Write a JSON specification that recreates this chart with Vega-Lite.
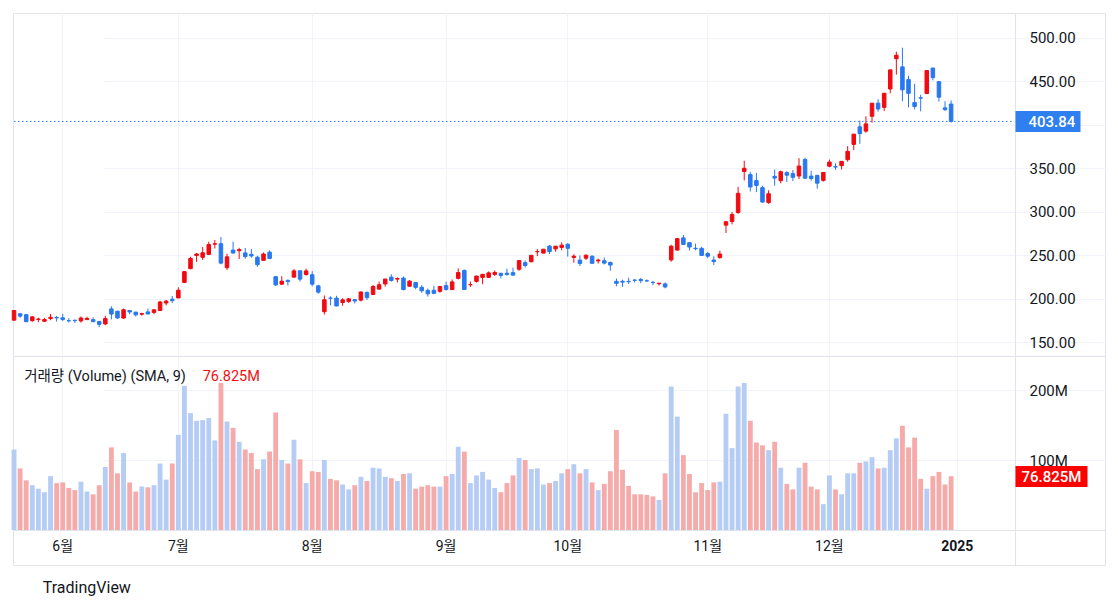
{
  "$schema": "https://vega.github.io/schema/vega-lite/v6.json",
  "padding": {"left": 10, "top": 12, "right": 0, "bottom": 0},
  "background": "#ffffff",
  "spacing": 0,
  "bounds": "flush",
  "title": {"text": "TradingView", "orient": "bottom", "anchor": "start", "offset": 14, "fontSize": 16, "fontWeight": "normal", "font": "Roboto", "color": "#131722", "dx": 32},
  "datasets": {
    "ohlc": [
      {"d":"2024-05-21","o":175.51,"h":186.88,"l":174.71,"c":186.60,"v":115},
      {"d":"2024-05-22","o":182.85,"h":183.80,"l":178.12,"c":180.11,"v":88},
      {"d":"2024-05-23","o":181.80,"h":181.90,"l":173.26,"c":173.74,"v":71},
      {"d":"2024-05-24","o":174.84,"h":180.08,"l":173.73,"c":179.24,"v":64},
      {"d":"2024-05-28","o":176.40,"h":178.25,"l":173.16,"c":176.75,"v":59},
      {"d":"2024-05-29","o":174.19,"h":178.15,"l":173.93,"c":176.19,"v":54},
      {"d":"2024-05-30","o":177.30,"h":182.67,"l":175.38,"c":178.79,"v":77},
      {"d":"2024-05-31","o":178.50,"h":180.32,"l":173.82,"c":178.08,"v":67},
      {"d":"2024-06-03","o":178.13,"h":182.64,"l":174.49,"c":176.29,"v":68},
      {"d":"2024-06-04","o":174.78,"h":177.76,"l":173.00,"c":174.77,"v":60},
      {"d":"2024-06-05","o":175.35,"h":176.15,"l":172.13,"c":175.00,"v":57},
      {"d":"2024-06-06","o":174.60,"h":179.73,"l":172.73,"c":177.94,"v":69},
      {"d":"2024-06-07","o":176.13,"h":179.35,"l":175.58,"c":177.48,"v":55},
      {"d":"2024-06-10","o":176.06,"h":178.57,"l":173.17,"c":173.79,"v":51},
      {"d":"2024-06-11","o":173.92,"h":174.75,"l":167.41,"c":170.66,"v":64},
      {"d":"2024-06-12","o":171.12,"h":180.55,"l":169.80,"c":177.29,"v":90},
      {"d":"2024-06-13","o":188.39,"h":191.36,"l":176.35,"c":182.47,"v":118},
      {"d":"2024-06-14","o":185.80,"h":186.00,"l":176.92,"c":178.01,"v":81},
      {"d":"2024-06-17","o":177.92,"h":188.81,"l":177.00,"c":187.44,"v":110},
      {"d":"2024-06-18","o":186.56,"h":187.20,"l":182.37,"c":184.86,"v":68},
      {"d":"2024-06-20","o":184.68,"h":185.21,"l":179.66,"c":181.57,"v":55},
      {"d":"2024-06-21","o":182.30,"h":183.95,"l":180.69,"c":183.01,"v":62},
      {"d":"2024-06-24","o":184.97,"h":188.80,"l":182.20,"c":182.58,"v":61},
      {"d":"2024-06-25","o":184.40,"h":187.97,"l":182.41,"c":187.35,"v":64},
      {"d":"2024-06-26","o":186.54,"h":197.76,"l":186.36,"c":196.37,"v":95},
      {"d":"2024-06-27","o":195.17,"h":198.72,"l":192.51,"c":197.42,"v":72},
      {"d":"2024-06-28","o":199.55,"h":203.20,"l":195.26,"c":197.88,"v":95},
      {"d":"2024-07-01","o":201.02,"h":213.23,"l":200.85,"c":209.86,"v":136},
      {"d":"2024-07-02","o":218.89,"h":231.30,"l":218.06,"c":231.26,"v":206},
      {"d":"2024-07-03","o":234.56,"h":248.35,"l":234.25,"c":246.39,"v":167},
      {"d":"2024-07-05","o":249.81,"h":252.37,"l":242.46,"c":251.52,"v":156},
      {"d":"2024-07-08","o":247.71,"h":259.44,"l":244.57,"c":252.94,"v":157},
      {"d":"2024-07-09","o":251.00,"h":265.61,"l":250.30,"c":262.33,"v":160},
      {"d":"2024-07-10","o":262.80,"h":267.59,"l":257.86,"c":263.26,"v":128},
      {"d":"2024-07-11","o":263.30,"h":271.00,"l":239.65,"c":241.03,"v":210},
      {"d":"2024-07-12","o":235.80,"h":251.84,"l":233.09,"c":248.23,"v":155},
      {"d":"2024-07-15","o":255.97,"h":265.60,"l":251.73,"c":252.64,"v":146},
      {"d":"2024-07-16","o":255.31,"h":258.62,"l":245.80,"c":256.56,"v":126},
      {"d":"2024-07-17","o":252.73,"h":258.47,"l":246.18,"c":248.50,"v":115},
      {"d":"2024-07-18","o":251.09,"h":257.14,"l":247.20,"c":249.23,"v":110},
      {"d":"2024-07-19","o":247.79,"h":249.44,"l":236.83,"c":239.20,"v":87},
      {"d":"2024-07-22","o":244.21,"h":253.21,"l":243.75,"c":251.51,"v":101},
      {"d":"2024-07-23","o":253.60,"h":255.76,"l":245.63,"c":246.38,"v":112},
      {"d":"2024-07-24","o":225.42,"h":225.99,"l":214.71,"c":215.99,"v":168},
      {"d":"2024-07-25","o":216.80,"h":226.00,"l":216.23,"c":220.25,"v":100},
      {"d":"2024-07-26","o":221.19,"h":222.28,"l":215.33,"c":219.80,"v":95},
      {"d":"2024-07-29","o":224.90,"h":234.27,"l":224.70,"c":232.10,"v":129},
      {"d":"2024-07-30","o":232.25,"h":232.41,"l":220.00,"c":222.62,"v":101},
      {"d":"2024-07-31","o":227.90,"h":234.68,"l":226.79,"c":232.07,"v":67},
      {"d":"2024-08-01","o":227.69,"h":231.87,"l":214.33,"c":216.86,"v":84},
      {"d":"2024-08-02","o":214.88,"h":216.13,"l":205.78,"c":207.67,"v":83},
      {"d":"2024-08-05","o":185.22,"h":203.88,"l":182.00,"c":198.88,"v":100},
      {"d":"2024-08-06","o":200.75,"h":202.90,"l":192.67,"c":200.64,"v":73},
      {"d":"2024-08-07","o":200.77,"h":203.49,"l":191.48,"c":191.76,"v":71},
      {"d":"2024-08-08","o":195.70,"h":200.70,"l":192.04,"c":198.84,"v":65},
      {"d":"2024-08-09","o":197.05,"h":200.88,"l":195.11,"c":200.00,"v":58},
      {"d":"2024-08-12","o":199.02,"h":199.26,"l":194.67,"c":197.49,"v":64},
      {"d":"2024-08-13","o":198.47,"h":208.49,"l":197.06,"c":207.83,"v":76},
      {"d":"2024-08-14","o":207.39,"h":208.44,"l":198.75,"c":201.38,"v":70},
      {"d":"2024-08-15","o":205.02,"h":215.88,"l":204.82,"c":214.14,"v":89},
      {"d":"2024-08-16","o":211.15,"h":219.80,"l":210.80,"c":216.12,"v":88},
      {"d":"2024-08-19","o":217.07,"h":222.98,"l":214.09,"c":222.72,"v":76},
      {"d":"2024-08-20","o":224.88,"h":228.22,"l":219.56,"c":221.10,"v":74},
      {"d":"2024-08-21","o":222.67,"h":224.66,"l":218.86,"c":223.27,"v":70},
      {"d":"2024-08-22","o":223.82,"h":225.66,"l":209.71,"c":210.66,"v":80},
      {"d":"2024-08-23","o":214.46,"h":221.48,"l":214.21,"c":220.32,"v":81},
      {"d":"2024-08-26","o":218.75,"h":219.09,"l":211.01,"c":213.21,"v":59},
      {"d":"2024-08-27","o":213.25,"h":215.66,"l":206.94,"c":209.21,"v":62},
      {"d":"2024-08-28","o":209.72,"h":211.84,"l":202.59,"c":205.75,"v":64},
      {"d":"2024-08-29","o":209.80,"h":214.89,"l":205.97,"c":206.28,"v":62},
      {"d":"2024-08-30","o":208.63,"h":214.57,"l":207.03,"c":214.11,"v":62},
      {"d":"2024-09-03","o":215.26,"h":219.90,"l":209.64,"c":210.60,"v":77},
      {"d":"2024-09-04","o":210.59,"h":222.22,"l":210.57,"c":219.41,"v":80},
      {"d":"2024-09-05","o":223.49,"h":235.00,"l":222.25,"c":230.17,"v":119},
      {"d":"2024-09-06","o":232.60,"h":233.60,"l":210.51,"c":210.73,"v":112},
      {"d":"2024-09-09","o":216.20,"h":219.87,"l":213.67,"c":216.27,"v":67},
      {"d":"2024-09-10","o":220.07,"h":226.40,"l":218.64,"c":226.17,"v":78},
      {"d":"2024-09-11","o":224.55,"h":228.47,"l":216.80,"c":228.13,"v":83},
      {"d":"2024-09-12","o":224.66,"h":231.45,"l":223.83,"c":229.81,"v":72},
      {"d":"2024-09-13","o":228.00,"h":232.67,"l":226.32,"c":230.29,"v":60},
      {"d":"2024-09-16","o":229.30,"h":229.96,"l":223.53,"c":226.78,"v":54},
      {"d":"2024-09-17","o":229.45,"h":234.57,"l":226.55,"c":227.87,"v":67},
      {"d":"2024-09-18","o":230.09,"h":235.68,"l":226.88,"c":227.20,"v":78},
      {"d":"2024-09-19","o":234.00,"h":244.24,"l":232.13,"c":243.92,"v":103},
      {"d":"2024-09-20","o":241.52,"h":243.99,"l":235.92,"c":238.25,"v":100},
      {"d":"2024-09-23","o":242.61,"h":250.00,"l":241.92,"c":250.00,"v":87},
      {"d":"2024-09-24","o":254.08,"h":257.19,"l":249.05,"c":254.27,"v":88},
      {"d":"2024-09-25","o":252.54,"h":257.05,"l":252.28,"c":257.02,"v":65},
      {"d":"2024-09-26","o":260.60,"h":261.75,"l":251.53,"c":254.22,"v":67},
      {"d":"2024-09-27","o":257.38,"h":260.70,"l":254.12,"c":260.46,"v":70},
      {"d":"2024-09-30","o":259.04,"h":264.86,"l":255.77,"c":261.63,"v":81},
      {"d":"2024-10-01","o":262.67,"h":263.98,"l":248.53,"c":258.02,"v":87},
      {"d":"2024-10-02","o":247.55,"h":251.16,"l":241.50,"c":249.02,"v":94},
      {"d":"2024-10-03","o":244.48,"h":249.79,"l":237.81,"c":240.66,"v":81},
      {"d":"2024-10-04","o":246.69,"h":250.96,"l":244.58,"c":250.08,"v":87},
      {"d":"2024-10-07","o":249.00,"h":249.83,"l":240.70,"c":240.83,"v":68},
      {"d":"2024-10-08","o":243.56,"h":246.21,"l":240.56,"c":244.50,"v":57},
      {"d":"2024-10-09","o":243.82,"h":247.43,"l":239.51,"c":241.05,"v":66},
      {"d":"2024-10-10","o":241.81,"h":242.79,"l":232.34,"c":238.77,"v":84},
      {"d":"2024-10-11","o":220.13,"h":223.34,"l":214.38,"c":217.80,"v":143},
      {"d":"2024-10-14","o":220.13,"h":221.91,"l":213.74,"c":219.16,"v":86},
      {"d":"2024-10-15","o":220.01,"h":224.26,"l":217.12,"c":219.57,"v":63},
      {"d":"2024-10-16","o":221.40,"h":222.82,"l":218.93,"c":221.33,"v":51},
      {"d":"2024-10-17","o":222.15,"h":224.00,"l":217.91,"c":220.89,"v":51},
      {"d":"2024-10-18","o":220.71,"h":222.28,"l":219.23,"c":220.70,"v":50},
      {"d":"2024-10-21","o":218.90,"h":220.48,"l":215.73,"c":218.85,"v":48},
      {"d":"2024-10-22","o":217.31,"h":218.22,"l":215.26,"c":217.97,"v":43},
      {"d":"2024-10-23","o":217.13,"h":218.72,"l":212.11,"c":213.65,"v":81},
      {"d":"2024-10-24","o":244.68,"h":262.12,"l":242.65,"c":260.48,"v":205},
      {"d":"2024-10-25","o":256.01,"h":269.49,"l":255.32,"c":269.19,"v":162},
      {"d":"2024-10-28","o":270.00,"h":273.54,"l":262.24,"c":262.51,"v":107},
      {"d":"2024-10-29","o":264.51,"h":264.98,"l":255.51,"c":259.52,"v":80},
      {"d":"2024-10-30","o":258.04,"h":263.35,"l":255.82,"c":257.55,"v":54},
      {"d":"2024-10-31","o":257.99,"h":259.75,"l":249.25,"c":249.85,"v":67},
      {"d":"2024-11-01","o":252.04,"h":254.00,"l":246.70,"c":248.98,"v":57},
      {"d":"2024-11-04","o":244.56,"h":248.90,"l":238.88,"c":242.84,"v":68},
      {"d":"2024-11-05","o":247.34,"h":255.28,"l":246.21,"c":251.44,"v":69},
      {"d":"2024-11-06","o":284.67,"h":289.59,"l":275.62,"c":288.53,"v":166},
      {"d":"2024-11-07","o":288.89,"h":299.75,"l":285.52,"c":296.91,"v":117},
      {"d":"2024-11-08","o":299.14,"h":328.71,"l":297.66,"c":321.22,"v":205},
      {"d":"2024-11-11","o":346.30,"h":358.64,"l":336.00,"c":350.00,"v":210},
      {"d":"2024-11-12","o":342.74,"h":345.84,"l":323.31,"c":328.49,"v":156},
      {"d":"2024-11-13","o":335.85,"h":344.60,"l":322.50,"c":330.24,"v":125},
      {"d":"2024-11-14","o":327.69,"h":329.98,"l":310.37,"c":311.18,"v":121},
      {"d":"2024-11-15","o":310.57,"h":324.68,"l":309.22,"c":320.72,"v":114},
      {"d":"2024-11-18","o":340.73,"h":348.55,"l":330.01,"c":338.74,"v":126},
      {"d":"2024-11-19","o":335.76,"h":347.38,"l":332.75,"c":346.00,"v":89},
      {"d":"2024-11-20","o":345.00,"h":346.60,"l":334.30,"c":342.03,"v":66},
      {"d":"2024-11-21","o":343.81,"h":347.99,"l":335.28,"c":339.64,"v":58},
      {"d":"2024-11-22","o":341.09,"h":361.53,"l":337.70,"c":352.56,"v":89},
      {"d":"2024-11-25","o":360.14,"h":361.93,"l":338.20,"c":338.59,"v":96},
      {"d":"2024-11-26","o":341.00,"h":346.96,"l":335.66,"c":338.23,"v":62},
      {"d":"2024-11-27","o":341.80,"h":342.55,"l":326.59,"c":332.89,"v":58},
      {"d":"2024-11-29","o":336.08,"h":345.45,"l":334.65,"c":345.16,"v":37},
      {"d":"2024-12-02","o":352.38,"h":360.00,"l":351.15,"c":357.09,"v":78},
      {"d":"2024-12-03","o":351.80,"h":355.69,"l":348.20,"c":351.42,"v":58},
      {"d":"2024-12-04","o":353.00,"h":358.10,"l":348.60,"c":357.93,"v":51},
      {"d":"2024-12-05","o":359.87,"h":375.43,"l":357.53,"c":369.49,"v":81},
      {"d":"2024-12-06","o":377.42,"h":389.49,"l":370.80,"c":389.22,"v":81},
      {"d":"2024-12-09","o":397.61,"h":404.80,"l":378.01,"c":389.79,"v":96},
      {"d":"2024-12-10","o":392.68,"h":409.73,"l":390.85,"c":400.99,"v":98},
      {"d":"2024-12-11","o":409.70,"h":424.88,"l":402.38,"c":424.77,"v":104},
      {"d":"2024-12-12","o":424.84,"h":429.30,"l":415.00,"c":418.10,"v":88},
      {"d":"2024-12-13","o":420.00,"h":436.30,"l":415.71,"c":436.23,"v":89},
      {"d":"2024-12-16","o":441.09,"h":463.19,"l":436.15,"c":463.02,"v":114},
      {"d":"2024-12-17","o":475.90,"h":483.99,"l":457.51,"c":479.86,"v":131},
      {"d":"2024-12-18","o":466.50,"h":488.54,"l":427.01,"c":440.13,"v":149},
      {"d":"2024-12-19","o":451.88,"h":456.36,"l":420.02,"c":436.17,"v":118},
      {"d":"2024-12-20","o":425.51,"h":447.08,"l":417.64,"c":421.06,"v":132},
      {"d":"2024-12-23","o":431.00,"h":434.51,"l":415.41,"c":430.60,"v":73},
      {"d":"2024-12-24","o":435.90,"h":462.78,"l":435.14,"c":462.28,"v":59},
      {"d":"2024-12-26","o":465.16,"h":465.33,"l":451.02,"c":454.13,"v":77},
      {"d":"2024-12-27","o":449.52,"h":450.00,"l":426.50,"c":431.66,"v":83},
      {"d":"2024-12-30","o":419.40,"h":427.00,"l":415.75,"c":417.41,"v":65},
      {"d":"2024-12-31","o":423.79,"h":427.93,"l":402.54,"c":403.84,"v":76.825}
    ]
  },
  "vconcat": [
    {
      "width": 1092,
      "height": 343,
      "data": {"name": "ohlc"},
      "layer": [
        {
          "data": {"values": [{}]},
          "mark": {"type": "rule", "strokeDash": [1.5, 2.5], "color": "#2878f0", "strokeWidth": 1},
          "encoding": {
            "x": {"datum": "2024-05-21", "type": "ordinal",
                  "scale": {"type": "band", "domain": {"unionWith": ["2025-01-02","2025-01-03","2025-01-06","2025-01-07","2025-01-08","2025-01-09","2025-01-10","2025-01-13","2025-01-14","2025-01-15"]}, "range": [-2, 1002], "paddingInner": 0, "paddingOuter": 0},
                  "axis": {"grid": true, "gridColor": "#f0f3fa", "labels": false, "ticks": false, "domain": false, "title": null, "bandPosition": 0.5, "values": ["2024-06-03","2024-07-01","2024-08-01","2024-09-03","2024-10-01","2024-11-01","2024-12-02","2025-01-02"]}},
            "x2": {"datum": "2025-01-15"},
            "y": {"datum": 403.84, "type": "quantitative",
                  "scale": {"domain": [134.3, 528.4], "nice": false, "zero": false},
                  "axis": {"orient": "right", "offset": -90, "values": [403.84], "format": ".2f", "grid": false, "domain": false, "ticks": true, "tickSize": 65, "tickWidth": 21, "tickColor": "#2f7ff0", "labelColor": "#ffffff", "labelPadding": -52, "labelFontSize": 15, "labelFont": "Roboto", "labelFontWeight": 500, "title": null, "zindex": 3}}
          }
        },
        {
          "mark": {"type": "rule", "strokeWidth": 1},
          "encoding": {
            "x": {"field": "d", "type": "ordinal",
                  "scale": {"type": "band", "domain": {"unionWith": ["2025-01-02","2025-01-03","2025-01-06","2025-01-07","2025-01-08","2025-01-09","2025-01-10","2025-01-13","2025-01-14","2025-01-15"]}, "range": [-2, 1002], "paddingInner": 0, "paddingOuter": 0},
                  "axis": {"grid": true, "gridColor": "#f0f3fa", "labels": false, "ticks": false, "domain": false, "title": null, "bandPosition": 0.5, "values": ["2024-06-03","2024-07-01","2024-08-01","2024-09-03","2024-10-01","2024-11-01","2024-12-02","2025-01-02"]}},
            "y": {"field": "l", "type": "quantitative",
                  "scale": {"domain": [134.3, 528.4], "nice": false, "zero": false},
                  "axis": {"orient": "right", "offset": -90, "values": [150, 200, 250, 300, 350, 400, 450, 500], "labelExpr": "datum.value == 400 ? '' : format(datum.value, '.2f')", "grid": true, "gridColor": "#f0f3fa", "domain": true, "domainColor": "#e0e3eb", "ticks": false, "labelPadding": 14, "labelFontSize": 15, "labelFont": "Roboto", "labelColor": "#131722", "title": null}},
            "y2": {"field": "h"},
            "color": {"condition": {"test": "datum.c >= datum.o", "value": "#f00a12"}, "value": "#2878f0"}
          }
        },
        {
          "mark": {"type": "bar", "width": {"band": 0.58}, "strokeWidth": 1},
          "encoding": {
            "x": {"field": "d", "type": "ordinal",
                  "scale": {"type": "band", "domain": {"unionWith": ["2025-01-02","2025-01-03","2025-01-06","2025-01-07","2025-01-08","2025-01-09","2025-01-10","2025-01-13","2025-01-14","2025-01-15"]}, "range": [-2, 1002], "paddingInner": 0, "paddingOuter": 0},
                  "axis": {"grid": true, "gridColor": "#f0f3fa", "labels": false, "ticks": false, "domain": false, "title": null, "bandPosition": 0.5, "values": ["2024-06-03","2024-07-01","2024-08-01","2024-09-03","2024-10-01","2024-11-01","2024-12-02","2025-01-02"]}},
            "y": {"field": "o", "type": "quantitative",
                  "scale": {"domain": [134.3, 528.4], "nice": false, "zero": false},
                  "axis": null},
            "y2": {"field": "c"},
            "fill": {"condition": {"test": "datum.c >= datum.o", "value": "#f00a12"}, "value": "#2878f0"},
            "stroke": {"condition": {"test": "datum.c >= datum.o", "value": "#f00a12"}, "value": "#2878f0"}
          }
        }
      ],
      "resolve": {"axis": {"y": "independent"}}
    },
    {
      "width": 1092,
      "height": 174,
      "data": {"name": "ohlc"},
      "layer": [
        {
          "mark": {"type": "bar", "width": {"band": 0.8}},
          "encoding": {
            "x": {"field": "d", "type": "ordinal",
                  "scale": {"type": "band", "domain": {"unionWith": ["2025-01-02","2025-01-03","2025-01-06","2025-01-07","2025-01-08","2025-01-09","2025-01-10","2025-01-13","2025-01-14","2025-01-15"]}, "range": [-2, 1002], "paddingInner": 0, "paddingOuter": 0},
                  "axis": {"grid": true, "gridColor": "#f0f3fa", "labels": false, "ticks": false, "domain": false, "title": null, "bandPosition": 0.5, "values": ["2024-06-03","2024-07-01","2024-08-01","2024-09-03","2024-10-01","2024-11-01","2024-12-02","2025-01-02"]}},
            "y": {"field": "v", "type": "quantitative",
                  "scale": {"domain": [0, 248.6], "nice": false, "zero": true},
                  "axis": {"orient": "right", "offset": -90, "values": [100, 200], "labelExpr": "datum.value + 'M'", "grid": true, "gridColor": "#f0f3fa", "domain": true, "domainColor": "#e0e3eb", "ticks": false, "labelPadding": 14, "labelFontSize": 15, "labelFont": "Roboto", "labelColor": "#131722", "title": null}},
            "color": {"condition": {"test": "datum.c >= datum.o", "value": "#b5cdf5"}, "value": "#f6abab"}
          }
        },
        {
          "data": {"values": [{}]},
          "mark": {"type": "rule", "opacity": 0},
          "encoding": {
            "y": {"datum": 76.825, "type": "quantitative",
                  "scale": {"domain": [0, 248.6], "nice": false, "zero": true},
                  "axis": {"orient": "right", "offset": -90, "values": [76.825], "labelExpr": "'76.825M'", "grid": false, "domain": false, "ticks": true, "tickSize": 72, "tickWidth": 21, "tickColor": "#ff0000", "labelColor": "#ffffff", "labelPadding": -66, "labelFontSize": 15, "labelFont": "Roboto", "labelFontWeight": 500, "title": null, "zindex": 3}}
          }
        },
        {
          "data": {"values": [{}]},
          "mark": {"type": "text", "text": "거래량 (Volume) (SMA, 9)", "align": "left", "baseline": "middle", "dx": 4, "fontSize": 14.5, "font": "Roboto, Noto Sans CJK KR", "color": "#131722"},
          "encoding": {
            "x": {"datum": "2024-05-22", "type": "ordinal",
                  "scale": {"type": "band", "domain": {"unionWith": ["2025-01-02","2025-01-03","2025-01-06","2025-01-07","2025-01-08","2025-01-09","2025-01-10","2025-01-13","2025-01-14","2025-01-15"]}, "range": [-2, 1002], "paddingInner": 0, "paddingOuter": 0},
                  "axis": {"grid": true, "gridColor": "#f0f3fa", "labels": false, "ticks": false, "domain": false, "title": null, "bandPosition": 0.5, "values": ["2024-06-03","2024-07-01","2024-08-01","2024-09-03","2024-10-01","2024-11-01","2024-12-02","2025-01-02"]}},
            "y": {"datum": 218, "type": "quantitative", "scale": {"domain": [0, 248.6], "nice": false, "zero": true}, "axis": null}
          }
        },
        {
          "data": {"values": [{}]},
          "mark": {"type": "text", "text": "76.825M", "align": "left", "baseline": "middle", "dx": 0, "fontSize": 14.5, "font": "Roboto", "color": "#f01010"},
          "encoding": {
            "x": {"datum": "2024-07-08", "type": "ordinal",
                  "scale": {"type": "band", "domain": {"unionWith": ["2025-01-02","2025-01-03","2025-01-06","2025-01-07","2025-01-08","2025-01-09","2025-01-10","2025-01-13","2025-01-14","2025-01-15"]}, "range": [-2, 1002], "paddingInner": 0, "paddingOuter": 0},
                  "axis": {"grid": true, "gridColor": "#f0f3fa", "labels": false, "ticks": false, "domain": false, "title": null, "bandPosition": 0.5, "values": ["2024-06-03","2024-07-01","2024-08-01","2024-09-03","2024-10-01","2024-11-01","2024-12-02","2025-01-02"]}},
            "y": {"datum": 218, "type": "quantitative", "scale": {"domain": [0, 248.6], "nice": false, "zero": true}, "axis": null}
          }
        }
      ],
      "resolve": {"axis": {"y": "independent"}}
    },
    {
      "width": 1092,
      "height": 35,
      "data": {"name": "ohlc"},
      "mark": {"type": "point", "opacity": 0},
      "encoding": {
        "x": {"field": "d", "type": "ordinal",
              "scale": {"type": "band", "domain": {"unionWith": ["2025-01-02","2025-01-03","2025-01-06","2025-01-07","2025-01-08","2025-01-09","2025-01-10","2025-01-13","2025-01-14","2025-01-15"]}, "range": [-2, 1002], "paddingInner": 0, "paddingOuter": 0},
              "axis": {"orient": "bottom", "offset": -35, "values": ["2024-06-03","2024-07-01","2024-08-01","2024-09-03","2024-10-01","2024-11-01","2024-12-02","2025-01-02"], "labelExpr": "datum.value == '2025-01-02' ? '2025' : toNumber(slice(datum.value, 5, 7)) + '월'", "grid": false, "ticks": false, "domain": false, "labelPadding": 9, "labelFontSize": 14, "labelFont": "Roboto, Noto Sans CJK KR", "labelColor": "#131722", "labelAngle": 0, "bandPosition": 0.5, "labelFontWeight": {"condition": {"test": "datum.value == '2025-01-02'", "value": "bold"}, "value": "normal"}, "title": null}},
        "y": {"datum": 0.5, "type": "quantitative", "scale": {"domain": [0, 1]},
              "axis": {"orient": "right", "offset": -90, "labels": false, "ticks": false, "grid": false, "domain": true, "domainColor": "#e0e3eb", "title": null}}
      }
    }
  ],
  "config": {
    "view": {"stroke": "#e0e3eb", "strokeWidth": 1},
    "axis": {"labelFont": "Roboto, Noto Sans CJK KR", "labelColor": "#131722"}
  }
}
